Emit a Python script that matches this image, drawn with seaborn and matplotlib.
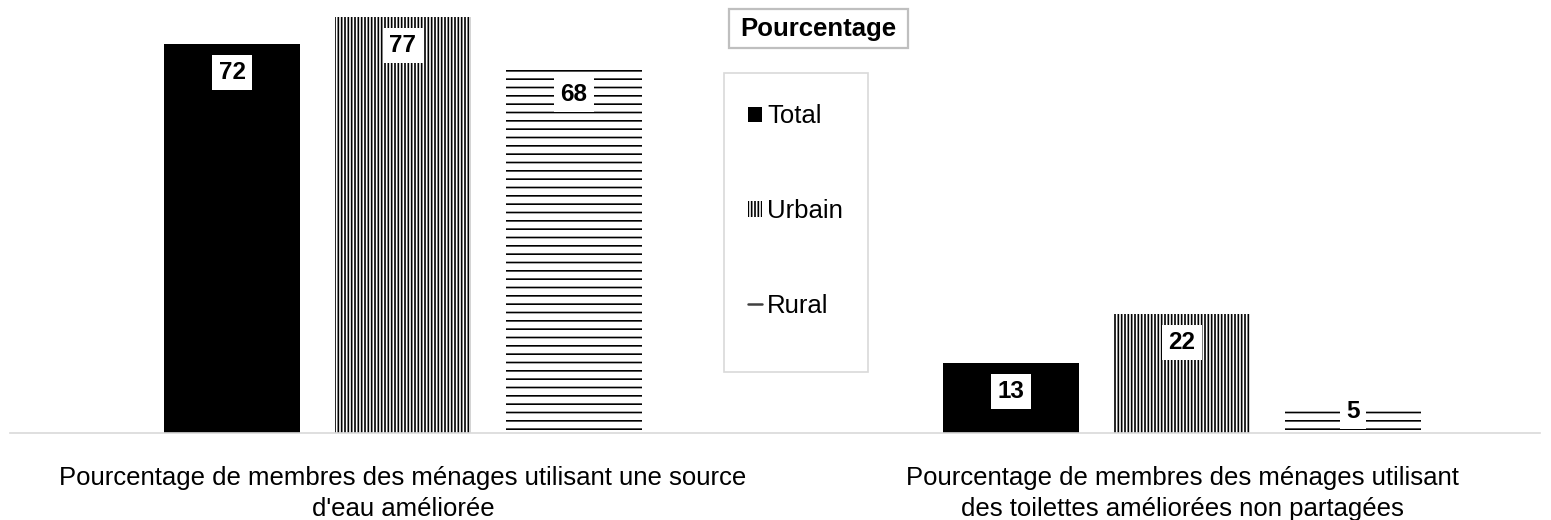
"""
Grouped bar chart: household water source and toilets (Total / Urbain / Rural).
"""
import pandas as pd
import matplotlib.pyplot as plt
import matplotlib.patches as mpatches
from matplotlib.lines import Line2D
import seaborn as sns

CATEGORIES = [
    "Pourcentage de membres des ménages utilisant une source\nd'eau améliorée",
    "Pourcentage de membres des ménages utilisant\ndes toilettes améliorées non partagées",
]
GROUPS = ["Total", "Urbain", "Rural"]
TOTAL = [72, 13]
URBAIN = [77, 22]
RURAL = [68, 5]

W, H = 1551, 520

sns.set_theme(style="white")
plt.rcParams['font.family'] = ['Liberation Sans', 'DejaVu Sans']
plt.rcParams['text.color'] = 'black'
plt.rcParams['xtick.color'] = 'black'
plt.rcParams['hatch.color'] = 'black'
plt.rcParams['hatch.linewidth'] = 1.2

rows = []
for g, vals in zip(GROUPS, [TOTAL, URBAIN, RURAL]):
    for c, v in zip(CATEGORIES, vals):
        rows.append({"category": c, "group": g, "value": v})
df = pd.DataFrame(rows)

fig = plt.figure(figsize=(W / 100, H / 100), dpi=100)
ax = fig.add_axes([10 / W, 87 / H, 1530 / W, 433 / H])

sns.barplot(data=df, x="category", y="value", hue="group", order=CATEGORIES,
            hue_order=GROUPS, palette=["black", "white", "white"],
            width=0.6585, gap=0.2045, ax=ax, saturation=1, linewidth=0,
            edgecolor="black")

hatches = ["", "|||||", "--"]
for cont, h in zip(ax.containers, hatches):
    for bar in cont:
        bar.set_hatch(h)
        bar.set_edgecolor("black")
        bar.set_linewidth(0)

ax.set_ylim(0, 80.2)
ax.set_xlim(-0.5045, 1.4596)

# value labels in white boxes near the top of each bar
for cont in ax.containers:
    for bar in cont:
        h = bar.get_height()
        x = bar.get_x() + bar.get_width() / 2
        y = h - 5.3 if h > 10 else h - 1
        ax.text(x, y, f"{h:.0f}", ha="center", va="center", fontsize=17.5,
                fontweight="bold", color="black",
                bbox=dict(boxstyle="square,pad=0.25", facecolor="white",
                          edgecolor="none"))

sns.despine(ax=ax, left=True)
ax.spines['bottom'].set_color('#d9d9d9')
ax.spines['bottom'].set_linewidth(1.2)
ax.set_yticks([])
ax.set_xlabel("")
ax.set_ylabel("")
ax.tick_params(axis='x', length=0, pad=24, labelsize=18.5)
for lbl in ax.get_xticklabels():
    lbl.set_linespacing(1.35)

ax.get_legend().remove()
handles = [
    mpatches.Patch(facecolor="black", linewidth=0),
    mpatches.Patch(facecolor="white", hatch="|||||", edgecolor="black", linewidth=0),
    Line2D([], [], color="#404040", linewidth=1.8),
]
leg = fig.legend(handles, GROUPS, loc="center left",
                 bbox_to_anchor=(748 / W, 1 - 211 / H),
                 fontsize=18.5, frameon=False, handlelength=0.55,
                 handleheight=0.55, handletextpad=0.2, labelspacing=2.75,
                 borderpad=0, borderaxespad=0)

# legend frame
fig.patches.append(mpatches.Rectangle((724 / W, 1 - 372 / H), 144 / W, 299 / H,
                                      transform=fig.transFigure, fill=False,
                                      edgecolor="#d9d9d9", linewidth=1.2))

# "Pourcentage" title box
fig.patches.append(mpatches.Rectangle((729 / W, 1 - 48 / H), 179 / W, 39 / H,
                                      transform=fig.transFigure, facecolor="white",
                                      edgecolor="#bfbfbf", linewidth=1.6))
fig.text(818.5 / W, 1 - 29 / H, "Pourcentage", ha="center", va="center",
         fontsize=18.5, fontweight="bold")

fig.savefig("out.png", dpi=100)
